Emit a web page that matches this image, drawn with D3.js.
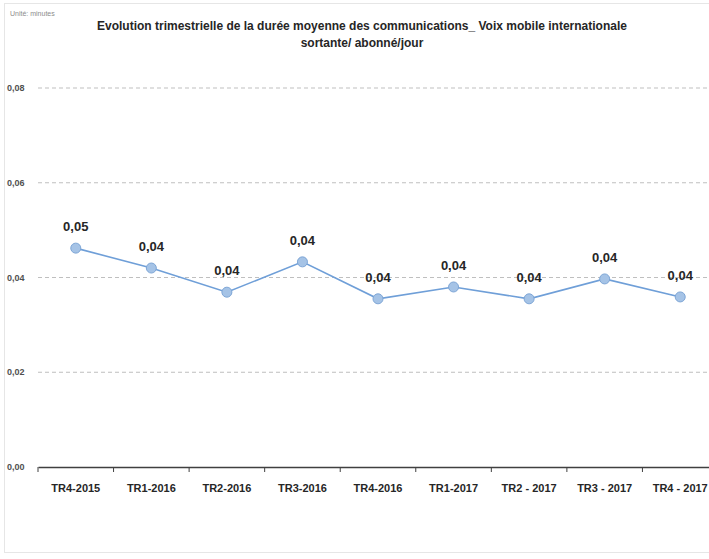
<!DOCTYPE html>
<html>
<head>
<meta charset="utf-8">
<script src="https://cdn.jsdelivr.net/npm/d3@7"></script>
<style>
  body { margin: 0; background: #fff; }
  svg { display: block; font-family: "Liberation Sans", Arial, sans-serif; }
</style>
</head>
<body>
<div id="chart"></div>
<script>
// data
const quarters = ['TR4-2015', 'TR1-2016', 'TR2-2016', 'TR3-2016', 'TR4-2016',
                  'TR1-2017', 'TR2 - 2017', 'TR3 - 2017', 'TR4 - 2017'];
const durations = [0.0462, 0.0420, 0.0369, 0.0433, 0.0355, 0.0380, 0.0355, 0.0397, 0.0359];
const pointLabels = ['0,05', '0,04', '0,04', '0,04', '0,04', '0,04', '0,04', '0,04', '0,04'];
const yTicks = [0, 0.02, 0.04, 0.06, 0.08];

const width = 709, height = 559;

const svg = d3.select('#chart').append('svg')
    .attr('width', width)
    .attr('height', height);

// faint frame
svg.append('rect')
    .attr('x', 4.5).attr('y', 3.5)
    .attr('width', width + 10).attr('height', height - 10)
    .style('fill', 'none')
    .style('stroke', '#e6e6e6');

// scales
const x = d3.scaleBand()
    .domain(quarters)
    .range([38, 718]);

const y = d3.scaleLinear()
    .domain([0, 0.08])
    .range([467, 88]);

const fmt = d => d3.format('.2f')(d).replace('.', ',');

// gridlines
svg.append('g')
    .selectAll('line')
    .data(yTicks.filter(d => d > 0))
    .join('line')
    .attr('x1', 38).attr('x2', width)
    .attr('y1', d => y(d)).attr('y2', d => y(d))
    .style('stroke', '#bfbfbf')
    .style('stroke-dasharray', '4 3');

// y axis labels
svg.append('g')
    .selectAll('text')
    .data(yTicks)
    .join('text')
    .attr('x', 7)
    .attr('y', d => y(d) + 3)
    .text(fmt)
    .style('font-size', '9px')
    .style('font-weight', 'bold')
    .style('fill', '#505050');

// x axis
const xAxis = svg.append('g')
    .attr('transform', `translate(0,${y(0)})`)
    .call(d3.axisBottom(x).tickSize(0).tickPadding(17));
xAxis.select('.domain')
    .style('stroke', '#404040')
    .style('stroke-width', 1.5);
xAxis.selectAll('text')
    .style('font-size', '11px')
    .style('font-weight', 'bold')
    .style('fill', '#262626');

// tick marks at band edges
svg.append('g')
    .selectAll('line')
    .data(quarters)
    .join('line')
    .attr('x1', d => x(d)).attr('x2', d => x(d))
    .attr('y1', y(0)).attr('y2', y(0) + 5)
    .style('stroke', '#404040');

// line
const cx = d => x(d) + x.bandwidth() / 2;
const line = d3.line()
    .x((d, i) => cx(quarters[i]))
    .y(d => y(d));

svg.append('path')
    .datum(durations)
    .attr('d', line)
    .style('fill', 'none')
    .style('stroke', '#6f9fd8')
    .style('stroke-width', 1.6);

// markers
svg.append('g')
    .selectAll('circle')
    .data(durations)
    .join('circle')
    .attr('cx', (d, i) => cx(quarters[i]))
    .attr('cy', d => y(d))
    .attr('r', 5)
    .style('fill', '#a5c3e6')
    .style('stroke', '#7ea6d6')
    .style('stroke-width', 1);

// point labels
svg.append('g')
    .selectAll('text')
    .data(durations)
    .join('text')
    .attr('x', (d, i) => cx(quarters[i]))
    .attr('y', d => y(d) - 17)
    .text((d, i) => pointLabels[i])
    .style('font-size', '13px')
    .style('font-weight', 'bold')
    .style('fill', '#262626')
    .style('text-anchor', 'middle');

// unit note
svg.append('text')
    .attr('x', 10).attr('y', 16)
    .text('Unité: minutes')
    .style('font-size', '7px')
    .style('fill', '#8c8c8c');

// title
const title = svg.append('text')
    .style('font-size', '12px')
    .style('font-weight', 'bold')
    .style('fill', '#262626')
    .style('text-anchor', 'middle');
title.append('tspan')
    .attr('x', 362).attr('y', 30)
    .text('Evolution trimestrielle de la durée moyenne des communications_ Voix mobile internationale');
title.append('tspan')
    .attr('x', 362).attr('y', 47)
    .text('sortante/ abonné/jour');
</script>
</body>
</html>
